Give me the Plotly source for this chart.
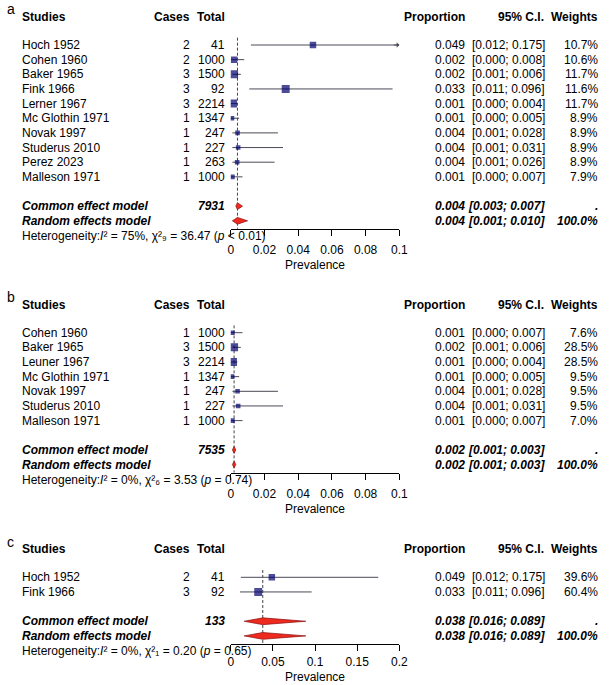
import math
import plotly.graph_objects as go

# ---------------- data ----------------
studies_a = ["Hoch 1952", "Cohen 1960", "Baker 1965", "Fink 1966", "Lerner 1967",
             "Mc Glothin 1971", "Novak 1997", "Studerus 2010", "Perez 2023", "Malleson 1971"]
cases_a = [2, 2, 3, 3, 3, 1, 1, 1, 1, 1]
total_a = [41, 1000, 1500, 92, 2214, 1347, 247, 227, 263, 1000]
prop_a = [0.049, 0.002, 0.002, 0.033, 0.001, 0.001, 0.004, 0.004, 0.004, 0.001]
lower_a = [0.012, 0.000, 0.001, 0.011, 0.000, 0.000, 0.001, 0.001, 0.001, 0.000]
upper_a = [0.175, 0.008, 0.006, 0.096, 0.004, 0.005, 0.028, 0.031, 0.026, 0.007]
weights_a = ["10.7%", "10.6%", "11.7%", "11.6%", "11.7%", "8.9%", "8.9%", "8.9%", "8.9%", "7.9%"]
common_a = [0.004, 0.003, 0.007]
random_a = [0.004, 0.001, 0.010]
n_total_a = 7931
het_a = {"I2": "75%", "df": "₉", "chi2": "36.47", "p": "&lt; 0.01"}
ticks_a = [0, 0.02, 0.04, 0.06, 0.08, 0.1]
ticklabels_a = ["0", "0.02", "0.04", "0.06", "0.08", "0.1"]

studies_b = ["Cohen 1960", "Baker 1965", "Leuner 1967", "Mc Glothin 1971",
             "Novak 1997", "Studerus 2010", "Malleson 1971"]
cases_b = [1, 3, 3, 1, 1, 1, 1]
total_b = [1000, 1500, 2214, 1347, 247, 227, 1000]
prop_b = [0.001, 0.002, 0.001, 0.001, 0.004, 0.004, 0.001]
lower_b = [0.000, 0.001, 0.000, 0.000, 0.001, 0.001, 0.000]
upper_b = [0.007, 0.006, 0.004, 0.005, 0.028, 0.031, 0.007]
weights_b = ["7.6%", "28.5%", "28.5%", "9.5%", "9.5%", "9.5%", "7.0%"]
common_b = [0.002, 0.001, 0.003]
random_b = [0.002, 0.001, 0.003]
n_total_b = 7535
het_b = {"I2": "0%", "df": "₆", "chi2": "3.53", "p": "= 0.74"}
ticks_b = [0, 0.02, 0.04, 0.06, 0.08, 0.1]
ticklabels_b = ["0", "0.02", "0.04", "0.06", "0.08", "0.1"]

studies_c = ["Hoch 1952", "Fink 1966"]
cases_c = [2, 3]
total_c = [41, 92]
prop_c = [0.049, 0.033]
lower_c = [0.012, 0.011]
upper_c = [0.175, 0.096]
weights_c = ["39.6%", "60.4%"]
common_c = [0.038, 0.016, 0.089]
random_c = [0.038, 0.016, 0.089]
n_total_c = 133
het_c = {"I2": "0%", "df": "₁", "chi2": "0.20", "p": "= 0.65"}
ticks_c = [0, 0.05, 0.1, 0.15, 0.2]
ticklabels_c = ["0", "0.05", "0.1", "0.15", "0.2"]

panels = [
    dict(letter="a", studies=studies_a, cases=cases_a, total=total_a, prop=prop_a,
         lower=lower_a, upper=upper_a, weights=weights_a, common=common_a,
         random=random_a, ntot=n_total_a, het=het_a, ticks=ticks_a, ticklabels=ticklabels_a),
    dict(letter="b", studies=studies_b, cases=cases_b, total=total_b, prop=prop_b,
         lower=lower_b, upper=upper_b, weights=weights_b, common=common_b,
         random=random_b, ntot=n_total_b, het=het_b, ticks=ticks_b, ticklabels=ticklabels_b),
    dict(letter="c", studies=studies_c, cases=cases_c, total=total_c, prop=prop_c,
         lower=lower_c, upper=upper_c, weights=weights_c, common=common_c,
         random=random_c, ntot=n_total_c, het=het_c, ticks=ticks_c, ticklabels=ticklabels_c),
]

# ---------------- geometry / style ----------------
W, H = 609, 685
ROW = 14.65
PANEL_TOP = [45.0, 332.7, 577.3]
X0_PX, X1_PX = 232.3, 404.3
STUDY_X, CASES_R, TOTAL_R = 18, 192, 227
PROP_R, CI_R, W_R = 472, 554, 608
FONT = "Liberation Sans, Arial, Helvetica, sans-serif"
FS = 12
NAVY = "#00006e"
CI_COL = "#4a4a58"
DIAMOND_FILL = "#ee2a1e"
DIAMOND_LINE = "#8a1010"
SQ_SCALE = 4.6
DIAMOND_H = 3.4

fig = go.Figure()
annotations = []


def txt(xpx, ypx, text, anchor="left", size=FS, yanchor="middle"):
    annotations.append(dict(
        x=xpx / W, xref="paper", y=ypx, yref="y", text=text, showarrow=False,
        xanchor=anchor, yanchor=yanchor, font=dict(family=FONT, size=size, color="black"),
        borderpad=0))


for i, p in enumerate(panels):
    xa = "x" if i == 0 else f"x{i+1}"
    xmax = p["ticks"][-1]
    top = PANEL_TOP[i]
    n = len(p["studies"])
    y_rows = [top + k * ROW for k in range(n)]
    y_common = top + (n + 1) * ROW
    y_random = top + (n + 2) * ROW
    y_axis = y_random + 8
    y_het = y_random + 15.3
    y_head = top - 1.92 * ROW
    y_letter = max(top - 3.05 * ROW, 0)
    last_panel = (i == len(panels) - 1)

    # reference line at common estimate
    fig.add_trace(go.Scatter(
        x=[p["common"][0], p["common"][0]], y=[top - 0.5 * ROW, y_axis],
        xaxis=xa, yaxis="y", mode="lines",
        line=dict(color="#444444", width=1, dash="3px,2px"), hoverinfo="skip"))

    # confidence intervals
    cx, cy = [], []
    for lo, hi, yy in zip(p["lower"], p["upper"], y_rows):
        cx += [lo, min(hi, xmax), None]
        cy += [yy, yy, None]
        if hi > xmax:
            annotations.append(dict(
                x=xmax, y=yy, xref=xa, yref="y", ax=-7, ay=0, text="",
                showarrow=True, arrowhead=1, arrowsize=0.9, arrowwidth=1,
                arrowcolor=CI_COL))
    fig.add_trace(go.Scatter(x=cx, y=cy, xaxis=xa, yaxis="y", mode="lines",
                             line=dict(color=CI_COL, width=1), hoverinfo="skip"))

    # study squares
    fig.add_trace(go.Scatter(
        x=[c / t for c, t in zip(p["cases"], p["total"])], y=y_rows,
        xaxis=xa, yaxis="y", mode="markers",
        marker=dict(symbol="square", color=NAVY,
                    size=[SQ_SCALE * math.sqrt(c) for c in p["cases"]],
                    line=dict(width=0)),
        hoverinfo="skip"))

    # diamonds
    for est, yy in ((p["common"], y_common), (p["random"], y_random)):
        e, lo, hi = est
        fig.add_trace(go.Scatter(
            x=[lo, e, hi, e, lo], y=[yy, yy - DIAMOND_H, yy, yy + DIAMOND_H, yy],
            xaxis=xa, yaxis="y", mode="lines", fill="toself",
            fillcolor=DIAMOND_FILL, line=dict(color=DIAMOND_LINE, width=0.7),
            hoverinfo="skip"))

    # axis
    ax_def = dict(
        domain=[X0_PX / W, X1_PX / W], range=[0, xmax], anchor="free",
        position=1 - y_axis / H, side="bottom", showline=True, linecolor="black",
        linewidth=1, ticks="outside", ticklen=6, tickwidth=1, tickcolor="black",
        tickvals=p["ticks"], ticktext=p["ticklabels"], showgrid=False, zeroline=False,
        tickfont=dict(family=FONT, size=FS, color="black"),
        ticklabelstandoff=1 if last_panel else 4,
        fixedrange=True)
    if i == 0:
        fig.update_layout(xaxis=ax_def)
    else:
        fig.update_layout(**{f"xaxis{i+1}": ax_def})

    # texts
    txt(3, y_letter, p["letter"], size=14, yanchor="top")
    txt(STUDY_X, y_head, "<b>Studies</b>")
    txt(CASES_R, y_head, "<b>Cases</b>", "right")
    txt(TOTAL_R, y_head, "<b>Total</b>", "right")
    txt(PROP_R, y_head, "<b>Proportion</b>", "right")
    txt(CI_R - 1, y_head, "<b>95% C.I.</b>", "right")
    txt(W_R, y_head, "<b>Weights</b>", "right")
    for k in range(n):
        yy = y_rows[k]
        txt(STUDY_X, yy, p["studies"][k])
        txt(CASES_R, yy, str(p["cases"][k]), "right")
        txt(TOTAL_R, yy, str(p["total"][k]), "right")
        txt(PROP_R, yy, f"{p['prop'][k]:.3f}", "right")
        txt(CI_R, yy, f"[{p['lower'][k]:.3f}; {p['upper'][k]:.3f}]", "right")
        txt(W_R, yy, p["weights"][k], "right")
    c_e, c_l, c_h = p["common"]
    r_e, r_l, r_h = p["random"]
    txt(STUDY_X, y_common, "<b><i>Common effect model</i></b>")
    txt(TOTAL_R, y_common, f"<b><i>{p['ntot']}</i></b>", "right")
    txt(PROP_R, y_common, f"<b><i>{c_e:.3f}</i></b>", "right")
    txt(CI_R, y_common, f"<b><i>[{c_l:.3f}; {c_h:.3f}]</i></b>", "right")
    txt(W_R, y_common, "<b><i>.</i></b>", "right")
    txt(STUDY_X, y_random, "<b><i>Random effects model</i></b>")
    txt(PROP_R, y_random, f"<b><i>{r_e:.3f}</i></b>", "right")
    txt(CI_R, y_random, f"<b><i>[{r_l:.3f}; {r_h:.3f}]</i></b>", "right")
    txt(W_R, y_random, "<b><i>100.0%</i></b>", "right")
    h = p["het"]
    txt(STUDY_X, y_het,
        f"Heterogeneity:<i>I</i>² = {h['I2']}, χ²{h['df']}"
        f" = {h['chi2']} (<i>p</i> {h['p']})")
    if last_panel:
        txt((X0_PX + X1_PX) / 2, H, "Prevalence", "center", yanchor="bottom")
    else:
        txt((X0_PX + X1_PX) / 2, y_axis + 36, "Prevalence", "center")

fig.update_layout(
    width=W, height=H, margin=dict(l=0, r=0, t=0, b=0),
    paper_bgcolor="white", plot_bgcolor="rgba(0,0,0,0)", showlegend=False,
    yaxis=dict(range=[H, 0], domain=[0, 1], visible=False, fixedrange=True),
    annotations=annotations, font=dict(family=FONT, size=FS, color="black"),
)

fig.write_html(
    "out.html",
    config={"displayModeBar": False},
    post_script="document.body.style.margin='0';document.body.style.overflow='hidden';",
)
